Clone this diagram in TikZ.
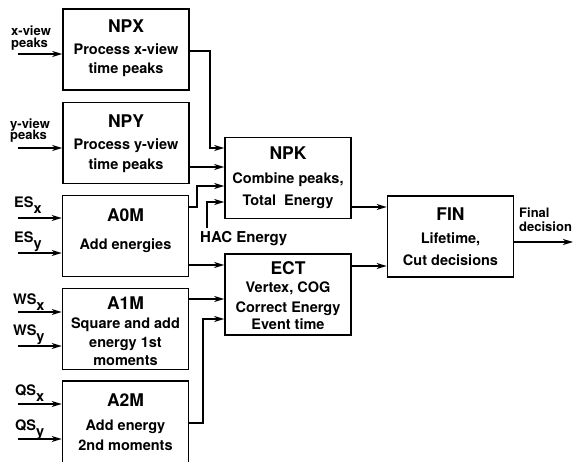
\documentclass[tikz,border=0pt]{standalone}
\usepackage{fontspec}
\setmainfont{TeX Gyre Heros}
\usetikzlibrary{arrows.meta}
\newcommand{\blktitle}[1]{{\fontsize{17.5}{20}\selectfont #1}}
\newcommand{\sub}[1]{\raisebox{-6pt}{#1}}
\newcommand{\tightlines}{\lineskiplimit=-100pt\relax\lineskip=0pt\relax}
\tikzset{
  blk/.style = {draw, line width=1.6pt, minimum width=126pt, minimum height=81pt, inner sep=0pt},
  blktxt/.style = {align=center, inner sep=0pt,
                   font=\bfseries\fontsize{14.5}{20}\selectfont\tightlines},
  arr/.style = {line width=1.4pt, -{Stealth[length=10pt, width=6pt, inset=3pt]}},
  lbl/.style = {align=left, inner sep=0pt, anchor=west,
                font=\bfseries\fontsize{13}{11.5}\selectfont\tightlines},
  sublbl/.style = {inner sep=0pt, anchor=base west, font=\bfseries\fontsize{14.5}{16}\selectfont}
}
\begin{document}
\begin{tikzpicture}[x=1pt, y=-1pt]
    \useasboundingbox (0,0) rectangle (581,462);
    % processing blocks
    \node[blk] (npx) at (126,49.5) {};
    \node[blk] (npy) at (126,143) {};
    \node[blk] (aom) at (125.5,236) {};
    \node[blk] (aim) at (125.5,329) {};
    \node[blk, minimum height=89pt] (aiim) at (125.5,425.5) {};
    \node[blk] (npk) at (288,178) {};
    \node[blk] (ect) at (288,294.5) {};
    \node[blk] (fin) at (450.5,236.5) {};
    \node[blktxt] (npxtxt) at (126,48.05) {\blktitle{NPX}\\[2.1pt]Process x-view\\[-1pt]time peaks};
    \node[blktxt] (npytxt) at (126,143.55) {\blktitle{NPY}\\[2.1pt]Process y-view\\time peaks};
    \node[blktxt] (aomtxt) at (125.5,230.55) {\blktitle{A0M}\\[8.1pt]Add energies};
    \node[blktxt] (aimtxt) at (125.5,331.05) {\blktitle{A1M}\\[-0.9pt]Square and add\\[-1pt]energy 1st\\[-2pt]moments};
    \node[blktxt] (aiimtxt) at (125.5,422.05) {\blktitle{A2M}\\[4.1pt]Add energy\\2nd moments};
    \node[blktxt] (npktxt) at (288,177.55) {\blktitle{NPK}\\[4.1pt]Combine peaks,\\[2pt]Total~~Energy};
    \node[blktxt] (ecttxt) at (288,295.55) {\blktitle{ECT}\\[-1.9pt]Vertex, COG\\Correct Energy\\[-3pt]Event time};
    \node[blktxt] (fintxt) at (450.5,236.55) {\blktitle{FIN}\\[3.1pt]Lifetime,\\[2pt]Cut decisions};
    % inputs
    \node[lbl] (xin) at (11,38) {x-view\\peaks};
    \node[lbl] (yin) at (10,130.5) {y-view\\peaks};
    \node[sublbl] (esx) at (14,208) {ES\sub{x}};
    \node[sublbl] (esy) at (14,243) {ES\sub{y}};
    \node[sublbl] (wsx) at (13,305) {WS\sub{x}};
    \node[sublbl] (wsy) at (13,335) {WS\sub{y}};
    \node[sublbl] (qsx) at (15,395) {QS\sub{x}};
    \node[sublbl] (qsy) at (15,430) {QS\sub{y}};
    \node[sublbl, font=\bfseries\fontsize{15}{16}\selectfont] (hac) at (200,242.5) {HAC Energy};
    \node[lbl, font=\bfseries\fontsize{13}{14}\selectfont] (final) at (519,220) {Final\\decision};
    \coordinate (xsrc) at (18,54);
    \coordinate (ysrc) at (18,148);
    \coordinate (esxsrc) at (18,218);
    \coordinate (esysrc) at (18,253);
    \coordinate (wsxsrc) at (18,312);
    \coordinate (wsysrc) at (18,346);
    \coordinate (qsxsrc) at (18,404);
    \coordinate (qsysrc) at (18,439);
    \coordinate (hacsrc) at (207,228);
    \coordinate (out) at (573,242);
    \draw[arr] (xsrc) -- (npx.west |- xsrc);
    \draw[arr] (ysrc) -- (npy.west |- ysrc);
    \draw[arr] (esxsrc) -- (aom.west |- esxsrc);
    \draw[arr] (esysrc) -- (aom.west |- esysrc);
    \draw[arr] (wsxsrc) -- (aim.west |- wsxsrc);
    \draw[arr] (wsysrc) -- (aim.west |- wsysrc);
    \draw[arr] (qsxsrc) -- (aiim.west |- qsxsrc);
    \draw[arr] (qsysrc) -- (aiim.west |- qsysrc);
    % connections
    \draw[arr] (npx.east |- 0,51) -| (210,148) -- (npk.west |- 0,148);
    \draw[arr] (npy.east |- 0,167) -- (npk.west |- 0,167);
    \draw[arr] (aom.east |- 0,207) -| (197,186) -- (npk.west |- 0,186);
    \draw[arr] (hacsrc) |- (npk.west |- 0,202);
    \draw[arr] (aom.east |- 0,265) -- (ect.west |- 0,265);
    \draw[arr] (aim.east |- 0,299) -- (ect.west |- 0,299);
    \draw[arr] (aiim.east |- 0,423) -| (203,319) -- (ect.west |- 0,319);
    \draw[arr] (npk.east |- 0,207) -- (fin.west |- 0,207);
    \draw[arr] (ect.east |- 0,266) -- (fin.west |- 0,266);
    \draw[arr] (fin.east |- out) -- (out);
\end{tikzpicture}
\end{document}
